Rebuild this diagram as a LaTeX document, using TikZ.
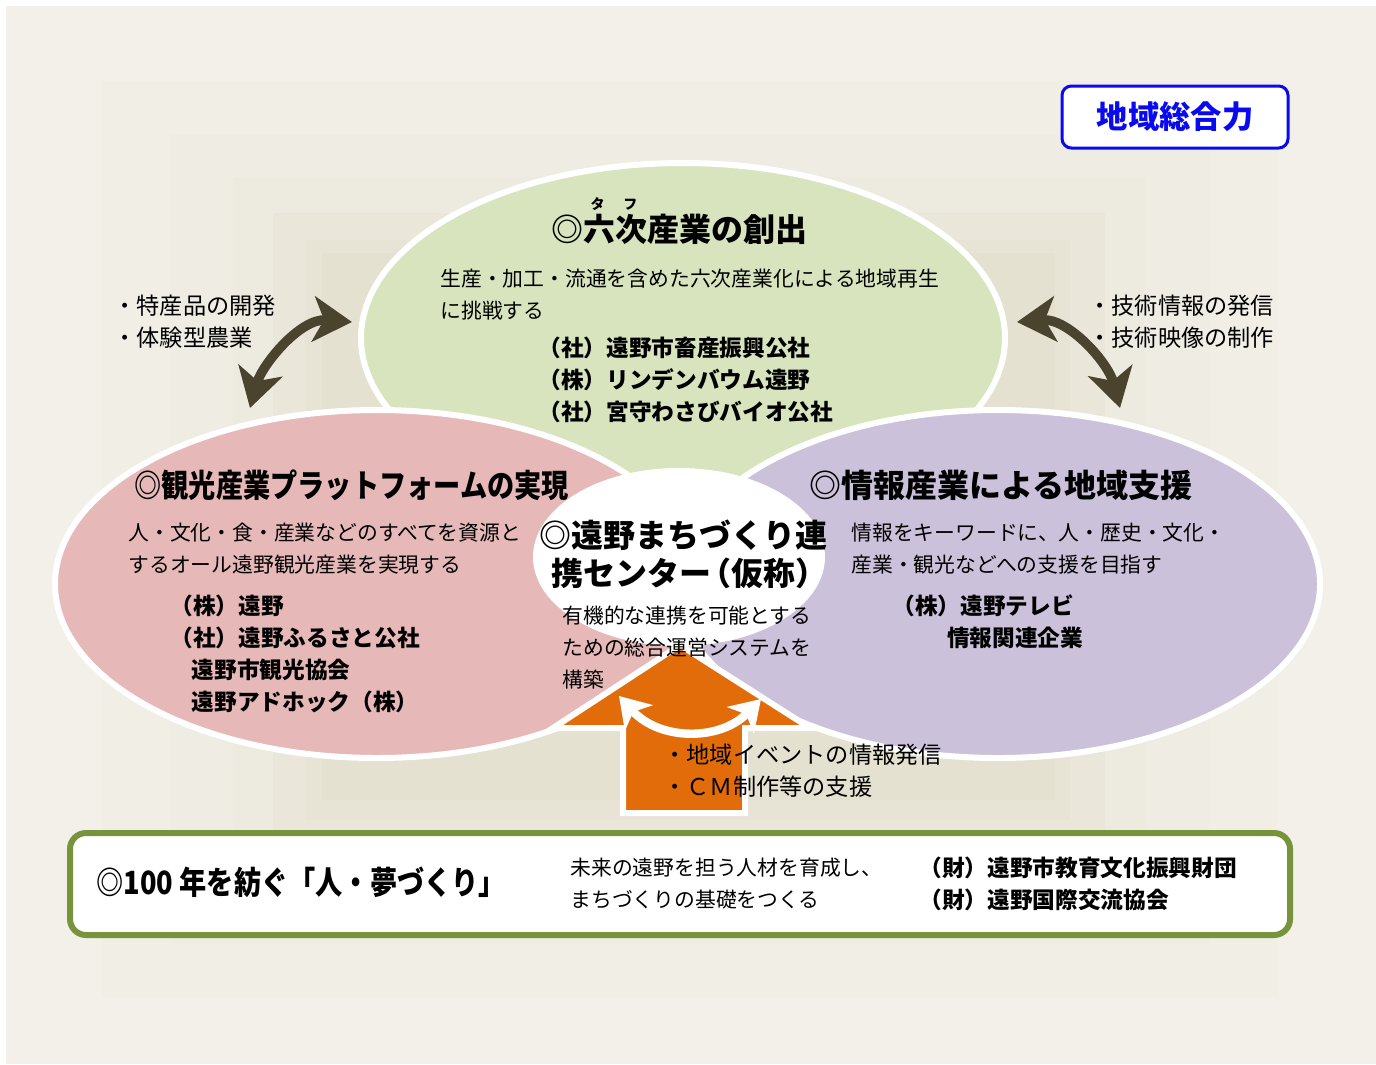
\documentclass[tikz,border=0pt]{standalone}
\usepackage{fontspec}
\newfontfamily\cjk{Noto Sans CJK JP}
\newfontfamily\cjkcond[FakeStretch=0.85]{Noto Sans CJK JP}
\usetikzlibrary{shapes.geometric,arrows.meta}

\definecolor{panelbg}{RGB}{243,240,233}
\definecolor{shadeA}{RGB}{241,238,230}
\definecolor{shadeB}{RGB}{239,236,227}
\definecolor{shadeC}{RGB}{237,234,223}
\definecolor{shadeD}{RGB}{234,231,218}
\definecolor{shadeE}{RGB}{231,228,213}
\definecolor{shadeF}{RGB}{228,225,208}
\definecolor{rokujigreen}{RGB}{215,228,189}
\definecolor{kankopink}{RGB}{230,185,184}
\definecolor{johopurple}{RGB}{204,193,218}
\definecolor{centerorange}{RGB}{227,108,10}
\definecolor{darkolive}{RGB}{74,67,46}
\definecolor{framegreen}{RGB}{119,147,60}
\definecolor{titleblue}{RGB}{10,10,240}

\tikzset{every picture/.style={line width=0.75pt}}
\tikzset{
  field/.style={ellipse, draw=white, line width=4.5pt, inner sep=0pt},
  headtxt/.style={inner sep=0.75pt, font=\cjk\bfseries\fontsize{24}{28.5}\selectfont},
  condtxt/.style={anchor=west, inner sep=0.75pt, font=\cjkcond\bfseries\fontsize{24}{28}\selectfont},
  bodytxt/.style={anchor=west, inner sep=0.75pt, align=left, font=\cjk\fontsize{15.6}{24}\selectfont},
  orgtxt/.style={anchor=west, inner sep=0.75pt, align=left, font=\cjk\bfseries\fontsize{17}{24}\selectfont},
  notetxt/.style={anchor=west, inner sep=0.75pt, align=left, font=\cjk\fontsize{17.4}{24}\selectfont},
  linkarrow/.style={draw=darkolive, line width=7.2pt, {Stealth[length=29pt,width=34pt,inset=8pt]}-{Stealth[length=29pt,width=34pt,inset=8pt]}},
  swaparrow/.style={draw=white, line width=6.3pt, {Stealth[length=22pt,width=28pt,inset=6pt]}-{Stealth[length=22pt,width=28pt,inset=6pt]}}
}

\begin{document}
\begin{tikzpicture}[x=0.75pt,y=0.75pt,yscale=-1,xscale=1]
\useasboundingbox (0,0) rectangle (1376,1064);

%Shape: Rectangle (panel and shading)
\fill [white] (0,0) rectangle (1376,1064);
\fill [panelbg] (6,6) rectangle (1376,1064);
\fill [shadeA] (102,81) rectangle (1277,997);
\fill [shadeB] (170,135) rectangle (1210,944);
\fill [shadeC] (233,177) rectangle (1145,890);
\fill [shadeD] (273,213) rectangle (1105,850);
\fill [shadeE] (305,240) rectangle (1070,820);
\fill [shadeF] (322,253) rectangle (1055,800);

%Shape: Ellipse (three fields and centre)
\node [field, fill=rokujigreen, minimum width=483pt, minimum height=262.5pt] (rokuji) at (683,338) {};
\node [field, fill=kankopink, minimum width=483pt, minimum height=261pt] (kanko) at (377,584) {};
\node [field, fill=johopurple, minimum width=483pt, minimum height=261pt] (joho) at (998,584) {};
\node [ellipse, fill=white, inner sep=0pt, minimum width=219pt, minimum height=133.5pt] (center) at (679,557) {};

%Shape: Up Arrow
\draw [draw=white, line width=4.5pt, fill=centerorange, line join=miter] (623,813) -- (623,728) -- (553,728) -- (680,645) -- (810,728) -- (745,728) -- (745,813) -- cycle ;

%Curve Lines
\coordinate (swapL) at (619,696);
\coordinate (swapR) at (761,699);
\draw [swaparrow] (swapL) .. controls (660,741) and (720,741) .. (swapR) ;

\coordinate (kankoTip) at (250,408);
\coordinate (rokujiTipL) at (352,322);
\draw [linkarrow] (kankoTip) .. controls (262,365) and (300,318) .. (rokujiTipL) ;

\coordinate (rokujiTipR) at (1017,322);
\coordinate (johoTip) at (1120,408);
\draw [linkarrow] (rokujiTipR) .. controls (1068,318) and (1108,362) .. (johoTip) ;

%Shape: Rounded Rect
\node [draw=framegreen, line width=4.5pt, fill=white, rounded corners=12pt, minimum width=915pt, minimum height=76.5pt] (hitobox) at (680,884) {};
\node [draw=titleblue, line width=2.25pt, fill=white, rounded corners=7pt, minimum width=169.5pt, minimum height=46.5pt, text=titleblue, font=\cjk\bfseries\fontsize{23.5}{28}\selectfont] (sogo) at (1175,117) {地域総合力};

% Text Node
\node [inner sep=0.75pt, font=\cjk\bfseries\fontsize{10.5}{12}\selectfont] (ruby) at (614,204) {タ\hspace{14pt}フ};
% Text Node
\node [headtxt] (rokujiTitle) at (679,229) {◎六次産業の創出};
% Text Node
\node [bodytxt] (rokujiBody) at (439,295) {生産・加工・流通を含めた六次産業化による地域再生\\に挑戦する};
% Text Node
\node [orgtxt] (rokujiOrg) at (537,380) {（社）遠野市畜産振興公社\\（株）リンデンバウム遠野\\（社）宮守わさびバイオ公社};

% Text Node
\node [notetxt] (leftNote) at (112,322) {・特産品の開発\\・体験型農業};
% Text Node
\node [notetxt] (rightNote) at (1087,322) {・技術情報の発信\\・技術映像の制作};

% Text Node
\node [condtxt] (kankoTitle) at (133,485) {◎観光産業プラットフォームの実現};
% Text Node
\node [bodytxt] (kankoBody) at (127,549) {人・文化・食・産業などのすべてを資源と\\するオール遠野観光産業を実現する};
% Text Node
\node [orgtxt] (kankoOrg) at (169,654) {（株）遠野\\（社）遠野ふるさと公社\\\hspace*{16pt}遠野市観光協会\\\hspace*{16pt}遠野アドホック（株）};

% Text Node
\node [headtxt, anchor=west] (johoTitle) at (808,485) {◎情報産業による地域支援};
% Text Node
\node [bodytxt] (johoBody) at (850,549) {情報をキーワードに、人・歴史・文化・\\産業・観光などへの支援を目指す};
% Text Node
\node [orgtxt] (johoOrg) at (891,622) {（株）遠野テレビ\\\hspace*{41pt}情報関連企業};

% Text Node
\node [headtxt, anchor=west, align=left] (centerTitle) at (538,554) {◎遠野まちづくり連\\\hspace*{9pt}携センター\kern-9pt（仮称）};
% Text Node
\node [bodytxt] (centerBody) at (561,648) {有機的な連携を可能とする\\ための総合運営システムを\\構築};
% Text Node
\node [notetxt] (eventNote) at (662,771) {・地域イベントの情報発信\\・ＣＭ制作等の支援};

% Text Node
\node [condtxt] (hitoTitle) at (95,882) {◎100 年を紡ぐ「人・夢づくり」};
% Text Node
\node [bodytxt] (hitoBody) at (569,884) {未来の遠野を担う人材を育成し、\\まちづくりの基礎をつくる};
% Text Node
\node [orgtxt] (hitoOrg) at (918,884) {（財）遠野市教育文化振興財団\\（財）遠野国際交流協会};

\end{tikzpicture}
\end{document}
